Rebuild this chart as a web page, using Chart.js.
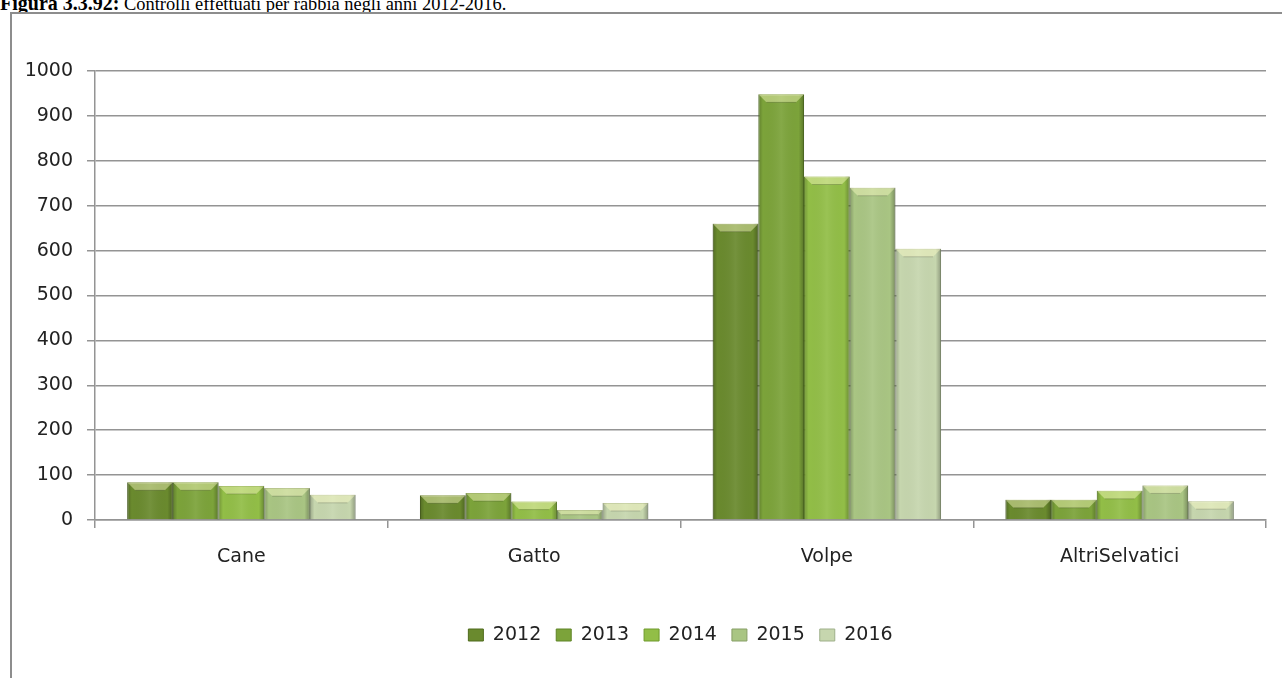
<!DOCTYPE html>
<html>
<head>
<meta charset="utf-8">
<script src="https://cdn.jsdelivr.net/npm/chart.js@4.4.1/dist/chart.umd.min.js"></script>
<style>
  html, body { margin: 0; padding: 0; background: #fff; width: 1282px; height: 678px; overflow: hidden; }
  #title { position: absolute; left: 0; top: -7px; font-family: "Liberation Serif", "Times New Roman", serif;
           font-size: 18.4px; line-height: 20px; white-space: nowrap; color: #000; }
  #title b { font-size: 20px; }
  #frame { position: absolute; left: 10px; top: 12px; width: 1300px; height: 700px;
           border-left: 2px solid #8d8d8d; border-top: 2px solid #8d8d8d; background: #fff; }
  #c { position: absolute; left: 0; top: 0; }
</style>
</head>
<body>
<div id="title"><b>Figura 3.3.92:</b> Controlli effettuati per rabbia negli anni 2012-2016.</div>
<div id="frame"></div>
<canvas id="c" width="1282" height="678"></canvas>
<script>
// Categories and yearly series (number of rabies checks)
const categories = ['Cane', 'Gatto', 'Volpe', 'AltriSelvatici'];
const years = ['2012', '2013', '2014', '2015', '2016'];
const v2012 = [84, 55, 660, 45];
const v2013 = [84, 60, 948, 45];
const v2014 = [76, 41, 765, 65];
const v2015 = [71, 22, 740, 77];
const v2016 = [56, 38, 604, 42];
const yTicks = [0, 100, 200, 300, 400, 500, 600, 700, 800, 900, 1000];

const series = [v2012, v2013, v2014, v2015, v2016];
const fills = ['#6a8a2e', '#7ca33a', '#92be47', '#a9c583', '#c6d6ae'];
const edges = ['#4f6b1c', '#5f8426', '#6f9a2c', '#879f66', '#9fb08a'];

const FONT = '"DejaVu Sans", Verdana, sans-serif';
const TEXT = '#222';
const GRID = '#949494';

// Adds the bevelled top face and shaded sides to every bar
const bevel = {
  id: 'bevel',
  afterDatasetsDraw(chart) {
    const ctx = chart.ctx;
    chart.data.datasets.forEach((ds, i) => {
      const meta = chart.getDatasetMeta(i);
      if (meta.hidden) return;
      meta.data.forEach(bar => {
        const { x, y, width, base } = bar.getProps(['x', 'y', 'width', 'base'], true);
        const l = x - width / 2, r = x + width / 2, h = base - y;
        if (h <= 0) return;
        ctx.save();
        const g = ctx.createLinearGradient(l, 0, r, 0);
        g.addColorStop(0, 'rgba(0,0,0,0.22)');
        g.addColorStop(0.1, 'rgba(0,0,0,0)');
        g.addColorStop(0.5, 'rgba(255,255,255,0.07)');
        g.addColorStop(0.88, 'rgba(0,0,0,0)');
        g.addColorStop(1, 'rgba(0,0,0,0.28)');
        ctx.fillStyle = g;
        ctx.fillRect(l, y, width, h);
        const b = Math.min(8, h / 2);
        ctx.beginPath();
        ctx.moveTo(l, y); ctx.lineTo(r, y); ctx.lineTo(r - b, y + b); ctx.lineTo(l + b, y + b); ctx.closePath();
        ctx.fillStyle = 'rgba(255,255,200,0.42)';
        ctx.fill();
        ctx.beginPath();
        ctx.moveTo(l + b, y + b); ctx.lineTo(r - b, y + b);
        ctx.strokeStyle = 'rgba(0,0,0,0.18)';
        ctx.lineWidth = 1;
        ctx.stroke();
        ctx.restore();
      });
    });
  }
};

// Centres the legend under the plot area instead of the whole canvas
const legendUnderPlot = {
  id: 'legendUnderPlot',
  afterLayout(chart) {
    const lg = chart.legend, a = chart.chartArea;
    if (!lg) return;
    lg.left = a.left;
    lg.right = a.right;
    lg.width = a.right - a.left;
  }
};

new Chart(document.getElementById('c'), {
  type: 'bar',
  data: {
    labels: categories,
    datasets: years.map((yr, i) => ({
      label: yr,
      data: series[i],
      backgroundColor: fills[i],
      borderColor: edges[i],
      borderWidth: 1,
      categoryPercentage: 0.78,
      barPercentage: 1.0
    }))
  },
  options: {
    responsive: false,
    animation: false,
    layout: { padding: { top: 71, left: 10, right: 16, bottom: 23.5 } },
    plugins: {
      legend: {
        position: 'bottom',
        labels: { font: { family: FONT, size: 19 }, color: TEXT, boxWidth: 15, boxHeight: 12, padding: 15 }
      },
      tooltip: { enabled: false }
    },
    scales: {
      x: {
        grid: { offset: true, drawOnChartArea: false, tickLength: 8, color: GRID, lineWidth: 1.5 },
        border: { color: GRID, width: 1.5 },
        ticks: { font: { family: FONT, size: 19 }, color: TEXT, padding: 18 },
        afterFit(scale) { scale.height = 90.5; }
      },
      y: {
        min: 0, max: 1000,
        afterBuildTicks(scale) { scale.ticks = yTicks.map(v => ({ value: v })); },
        grid: { color: GRID, lineWidth: 1.5, tickLength: 8 },
        border: { color: GRID, width: 1.5 },
        ticks: { font: { family: FONT, size: 19 }, color: TEXT, padding: 14, callback: v => String(v) },
        afterFit(scale) { scale.width = 85; }
      }
    }
  },
  plugins: [bevel, legendUnderPlot]
});
</script>
</body>
</html>
